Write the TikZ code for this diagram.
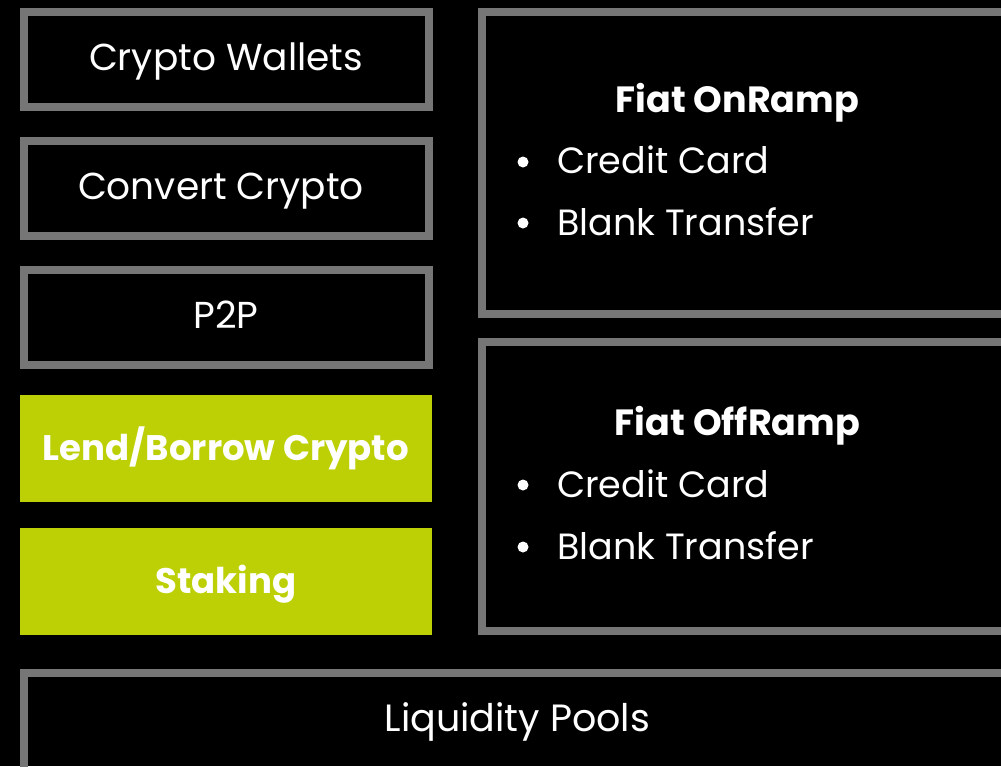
\documentclass[tikz,border=0pt]{standalone}
\usepackage{fontspec}
\setmainfont{Poppins}
\definecolor{bordergray}{HTML}{767676}
\definecolor{limegreen}{HTML}{BCD005}
\begin{document}
\begin{tikzpicture}[x=1pt,y=-1pt,
  outlinebox/.style={draw=bordergray,line width=8pt,fill=black,inner sep=0pt,minimum width=405pt,minimum height=95pt},
  greenbox/.style={fill=limegreen,inner sep=0pt,minimum width=412pt,minimum height=107pt},
  regtext/.style={text=white,inner sep=0pt,anchor=base,font=\fontsize{37.5}{44}\selectfont},
  boldtext/.style={text=white,inner sep=0pt,anchor=base,font=\fontsize{35.5}{44}\selectfont\bfseries},
  itemtext/.style={text=white,inner sep=0pt,anchor=base west,font=\fontsize{36.5}{44}\selectfont},
  bulletdot/.style={circle,fill=white,inner sep=0pt,minimum size=11pt}
]
\fill[black] (0,0) rectangle (1001,766);
\useasboundingbox (0,0) rectangle (1001,766);

% left column boxes
\node[outlinebox] (wallets) at (226.5,59.5) {};
\node[outlinebox] (convert) at (226.5,188.5) {};
\node[outlinebox] (p2p) at (226.5,317.5) {};
\node[greenbox] (lend) at (226,448.5) {};
\node[greenbox] (staking) at (226,581.5) {};

\node[regtext] (twallets) at (226,70) {Crypto Wallets};
\node[regtext] (tconvert) at (221,199) {Convert Crypto};
\node[regtext] (tp2p) at (226,328) {P2P};
\node[boldtext] (tlend) at (226,460) {Lend/Borrow Crypto};
\node[boldtext] (tstaking) at (226,593) {Staking};

% right boxes
\node[draw=bordergray,line width=8pt,inner sep=0pt,minimum width=524pt,minimum height=302pt] (onramp) at (744,163) {};
\node[draw=bordergray,line width=8pt,inner sep=0pt,minimum width=524pt,minimum height=289pt] (offramp) at (744,486.5) {};

\node[boldtext,font=\fontsize{36.5}{44}\selectfont\bfseries] (tonramp) at (737.5,112) {Fiat OnRamp};
\node[bulletdot] (b1) at (523,162) {};
\node[itemtext] (on1) at (557,173) {Credit Card};
\node[bulletdot] (b2) at (523,223) {};
\node[itemtext] (on2) at (557,235) {Blank Transfer};

\node[boldtext,font=\fontsize{36.5}{44}\selectfont\bfseries] (tofframp) at (737.5,435) {Fiat OffRamp};
\node[bulletdot] (b3) at (523,485) {};
\node[itemtext] (off1) at (557,497) {Credit Card};
\node[bulletdot] (b4) at (523,547) {};
\node[itemtext] (off2) at (557,559) {Blank Transfer};

% bottom box
\node[draw=bordergray,line width=8pt,inner sep=0pt,minimum width=982pt,minimum height=102pt] (pools) at (515,724) {};
\node[regtext,font=\fontsize{38}{44}\selectfont] (tpools) at (517.5,731) {Liquidity Pools};
\end{tikzpicture}
\end{document}
